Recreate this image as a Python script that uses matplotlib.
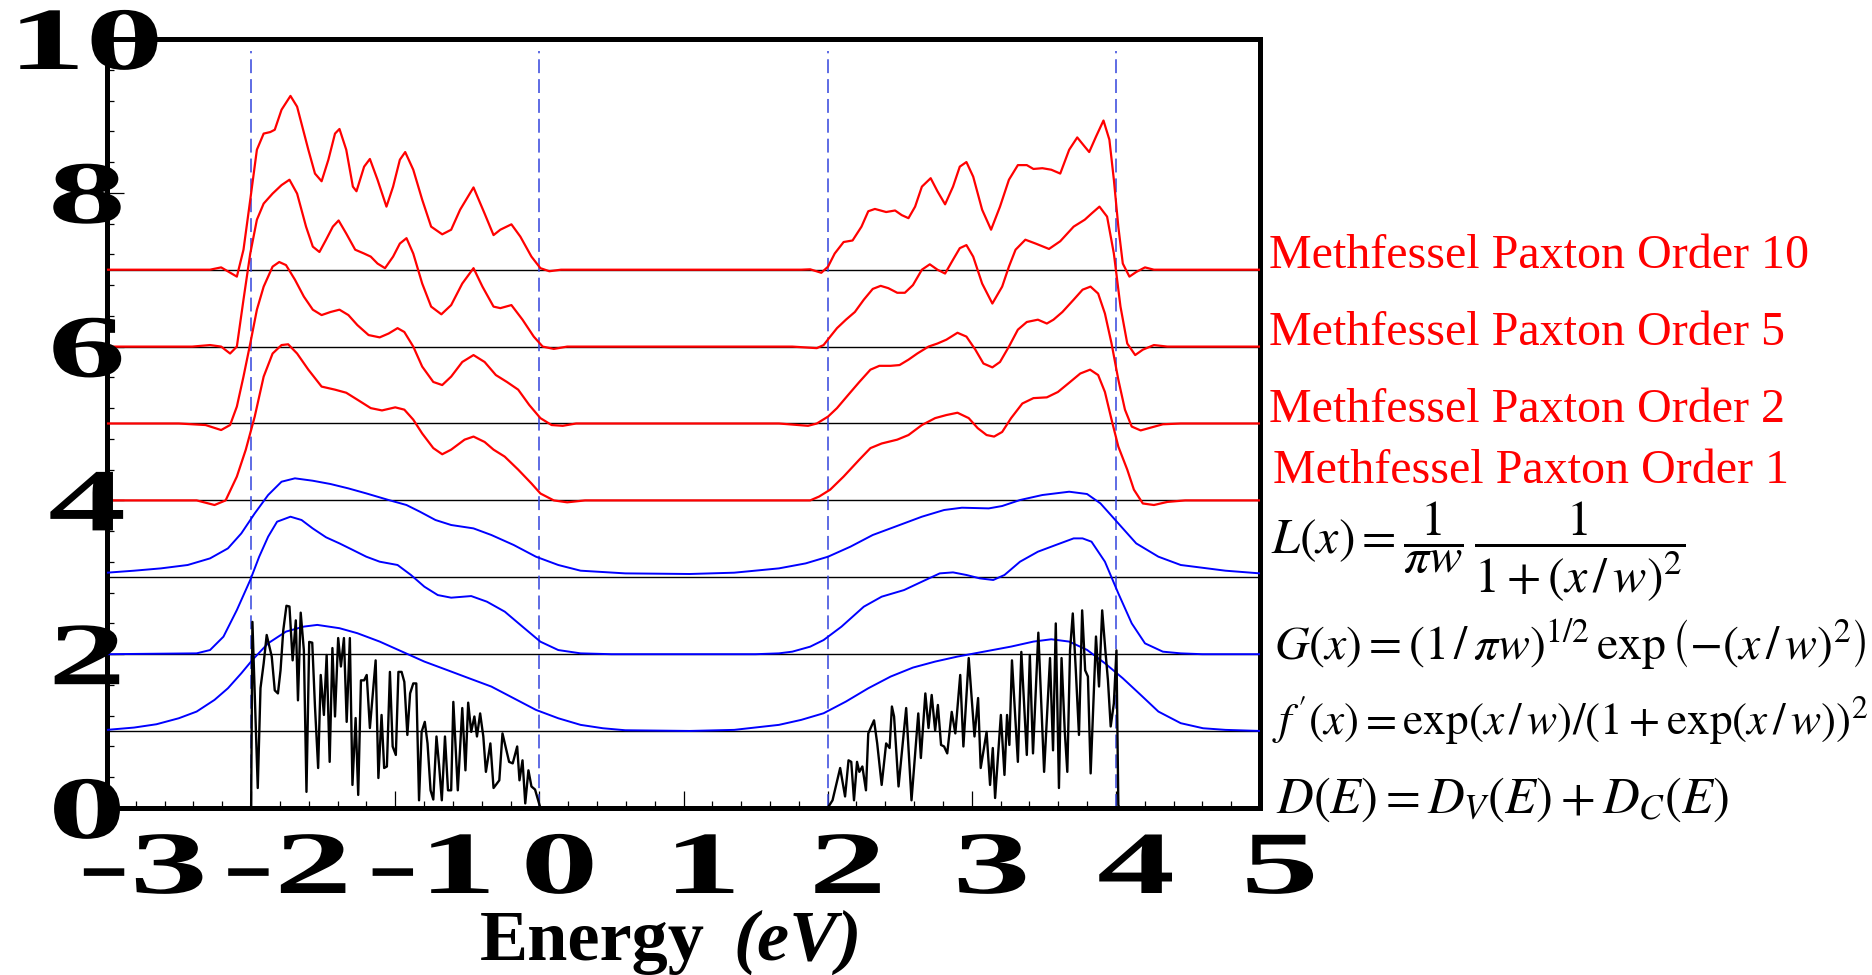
import matplotlib
matplotlib.use('Agg')
import matplotlib.pyplot as plt
from matplotlib.patheffects import AbstractPathEffect
from matplotlib.transforms import Affine2D, ScaledTranslation, blended_transform_factory
from matplotlib.ticker import MultipleLocator

plt.rcParams['mathtext.fontset'] = 'stix'
plt.rcParams['lines.scale_dashes'] = False

# ---------------- data ----------------
xtick_vals = [-3, -2, -1, 0, 1, 2, 3, 4, 5]
xtick_labels = ['-3', '-2', '-1', '0', '1', '2', '3', '4', '5']
ytick_vals = [0, 2, 4, 6, 8, 10]
ytick_labels = ['0', '2', '4', '6', '8', '10']

baselines = [1, 2, 3, 4, 5, 6, 7]
band_edges = [-2, 0, 2, 4]

mp_labels = ['Methfessel Paxton Order 10', 'Methfessel Paxton Order 5',
             'Methfessel Paxton Order 2', 'Methfessel Paxton Order 1']
mp_label_y = [7.02, 6.02, 5.02, 4.23]

formulas = [r'$L(x)=\dfrac{1}{\pi w}\,\dfrac{1}{1+(x\,/\,w)^{2}}$',
            r'$G(x)=(1\,/\,\pi w)^{1/2}\,\exp\left(-(x\,/\,w)^{2}\right)$',
            r"$f\,'(x)=\exp(x\,/\,w)/(1+\exp(x\,/\,w))^{2}$",
            r'$D(E)=D_{V}(E)+D_{C}(E)$']
formula_y = [3.30, 1.92, 0.95, -0.065]

mp10 = [(-3.0, 7.0), (-2.40, 7.0), (-2.285, 7.0), (-2.208, 7.03), (-2.099, 6.91), (-2.053, 7.26),
        (-2.006, 7.91), (-1.960, 8.56), (-1.913, 8.77), (-1.867, 8.79), (-1.836, 8.82), (-1.789, 9.08),
        (-1.727, 9.26), (-1.681, 9.12), (-1.603, 8.56), (-1.557, 8.25), (-1.511, 8.15), (-1.464, 8.43),
        (-1.418, 8.77), (-1.387, 8.83), (-1.340, 8.56), (-1.294, 8.08), (-1.269, 8.02), (-1.216, 8.34),
        (-1.176, 8.44), (-1.123, 8.17), (-1.061, 7.82), (-1.015, 8.08), (-0.968, 8.43), (-0.931, 8.53),
        (-0.875, 8.30), (-0.813, 7.91), (-0.751, 7.56), (-0.674, 7.46), (-0.612, 7.52), (-0.550, 7.78),
        (-0.457, 8.07), (-0.380, 7.73), (-0.318, 7.45), (-0.271, 7.52), (-0.194, 7.59), (-0.132, 7.43),
        (-0.055, 7.17), (0.007, 7.02), (0.069, 6.98), (0.15, 7.0), (1.817, 7.0), (1.879, 7.005),
        (1.956, 6.96), (2.003, 7.04), (2.049, 7.21), (2.111, 7.36), (2.173, 7.38), (2.235, 7.56),
        (2.282, 7.76), (2.328, 7.79), (2.406, 7.75), (2.468, 7.77), (2.514, 7.71), (2.561, 7.67),
        (2.607, 7.82), (2.654, 8.08), (2.715, 8.19), (2.762, 8.02), (2.815, 7.85), (2.870, 8.08),
        (2.917, 8.34), (2.963, 8.40), (3.010, 8.21), (3.072, 7.78), (3.134, 7.52), (3.196, 7.82),
        (3.258, 8.17), (3.320, 8.36), (3.382, 8.36), (3.428, 8.31), (3.490, 8.32), (3.552, 8.30),
        (3.614, 8.25), (3.676, 8.56), (3.732, 8.72), (3.784, 8.60), (3.815, 8.53), (3.862, 8.73),
        (3.914, 8.94), (3.955, 8.69), (3.986, 8.17), (4.017, 7.56), (4.048, 7.08), (4.094, 6.91),
        (4.141, 6.97), (4.202, 7.03), (4.264, 7.0), (5.0, 7.0)]

mp5 = [(-3.0, 6.0), (-2.409, 6.0), (-2.285, 6.02), (-2.208, 6.0), (-2.146, 5.91), (-2.099, 6.0),
       (-2.053, 6.61), (-2.006, 7.21), (-1.960, 7.65), (-1.913, 7.86), (-1.851, 7.99), (-1.789, 8.10),
       (-1.734, 8.17), (-1.681, 7.99), (-1.619, 7.56), (-1.572, 7.30), (-1.526, 7.23), (-1.480, 7.39),
       (-1.433, 7.56), (-1.393, 7.64), (-1.340, 7.47), (-1.278, 7.26), (-1.216, 7.21), (-1.170, 7.17),
       (-1.123, 7.08), (-1.071, 7.02), (-1.015, 7.17), (-0.968, 7.34), (-0.922, 7.41), (-0.875, 7.21),
       (-0.813, 6.82), (-0.751, 6.52), (-0.680, 6.42), (-0.612, 6.54), (-0.535, 6.82), (-0.457, 7.02),
       (-0.395, 6.78), (-0.318, 6.52), (-0.271, 6.50), (-0.194, 6.54), (-0.117, 6.35), (-0.039, 6.13),
       (0.023, 6.0), (0.100, 5.97), (0.193, 6.0), (1.755, 6.0), (1.925, 5.98), (1.972, 6.02),
       (2.018, 6.13), (2.065, 6.24), (2.127, 6.35), (2.189, 6.45), (2.251, 6.61), (2.313, 6.75),
       (2.368, 6.79), (2.421, 6.76), (2.483, 6.70), (2.536, 6.70), (2.592, 6.80), (2.654, 7.00),
       (2.709, 7.07), (2.762, 7.00), (2.815, 6.95), (2.870, 7.13), (2.917, 7.28), (2.963, 7.32),
       (3.010, 7.17), (3.072, 6.82), (3.143, 6.56), (3.211, 6.78), (3.258, 7.04), (3.304, 7.26),
       (3.372, 7.39), (3.443, 7.34), (3.536, 7.27), (3.614, 7.37), (3.707, 7.56), (3.784, 7.65),
       (3.831, 7.73), (3.886, 7.82), (3.939, 7.69), (3.986, 7.21), (4.032, 6.52), (4.079, 6.04),
       (4.134, 5.89), (4.187, 5.96), (4.264, 6.02), (4.357, 6.0), (5.0, 6.0)]

mp2 = [(-3.0, 5.0), (-2.502, 5.0), (-2.316, 4.98), (-2.208, 4.915), (-2.146, 4.98), (-2.099, 5.22),
       (-2.053, 5.61), (-2.006, 6.04), (-1.960, 6.48), (-1.913, 6.78), (-1.851, 7.04), (-1.805, 7.10),
       (-1.758, 7.06), (-1.696, 6.87), (-1.634, 6.65), (-1.572, 6.48), (-1.511, 6.41), (-1.449, 6.45),
       (-1.387, 6.48), (-1.325, 6.41), (-1.263, 6.28), (-1.185, 6.15), (-1.108, 6.12), (-1.046, 6.17),
       (-0.984, 6.24), (-0.937, 6.19), (-0.875, 6.00), (-0.813, 5.74), (-0.736, 5.54), (-0.674, 5.50),
       (-0.612, 5.61), (-0.535, 5.80), (-0.457, 5.89), (-0.380, 5.80), (-0.302, 5.63), (-0.225, 5.54),
       (-0.147, 5.44), (-0.070, 5.24), (0.007, 5.07), (0.085, 4.98), (0.162, 4.97), (0.255, 5.0),
       (1.662, 5.0), (1.864, 4.97), (1.925, 5.0), (2.003, 5.09), (2.065, 5.20), (2.142, 5.37),
       (2.220, 5.54), (2.297, 5.70), (2.359, 5.75), (2.437, 5.75), (2.499, 5.76), (2.561, 5.83),
       (2.622, 5.91), (2.700, 6.00), (2.762, 6.04), (2.824, 6.09), (2.901, 6.18), (2.963, 6.13),
       (3.025, 5.96), (3.081, 5.78), (3.143, 5.73), (3.196, 5.80), (3.258, 6.00), (3.320, 6.22),
       (3.382, 6.32), (3.459, 6.35), (3.521, 6.30), (3.567, 6.35), (3.629, 6.45), (3.707, 6.61),
       (3.769, 6.74), (3.824, 6.78), (3.877, 6.69), (3.924, 6.43), (3.970, 6.04), (4.017, 5.57),
       (4.063, 5.18), (4.110, 4.96), (4.172, 4.91), (4.249, 4.95), (4.326, 4.99), (4.450, 5.0),
       (5.0, 5.0)]

mp1 = [(-3.0, 4.0), (-2.378, 4.0), (-2.254, 3.94), (-2.177, 4.0), (-2.099, 4.31), (-2.037, 4.66),
       (-1.975, 5.09), (-1.913, 5.61), (-1.851, 5.91), (-1.789, 6.02), (-1.743, 6.03), (-1.681, 5.91),
       (-1.603, 5.70), (-1.511, 5.48), (-1.418, 5.44), (-1.340, 5.40), (-1.263, 5.31), (-1.170, 5.20),
       (-1.092, 5.17), (-1.000, 5.21), (-0.937, 5.18), (-0.875, 5.05), (-0.813, 4.87), (-0.736, 4.68),
       (-0.674, 4.60), (-0.612, 4.66), (-0.519, 4.79), (-0.457, 4.83), (-0.380, 4.76), (-0.318, 4.66),
       (-0.241, 4.57), (-0.147, 4.40), (-0.055, 4.22), (0.007, 4.09), (0.100, 4.0), (0.193, 3.975),
       (0.317, 4.0), (1.662, 4.0), (1.879, 4.0), (1.941, 4.05), (2.018, 4.14), (2.111, 4.31),
       (2.220, 4.53), (2.297, 4.68), (2.375, 4.74), (2.483, 4.79), (2.561, 4.85), (2.654, 4.98),
       (2.746, 5.07), (2.824, 5.11), (2.901, 5.14), (2.979, 5.07), (3.041, 4.94), (3.103, 4.85),
       (3.155, 4.83), (3.211, 4.89), (3.273, 5.07), (3.351, 5.26), (3.428, 5.33), (3.521, 5.34),
       (3.598, 5.41), (3.676, 5.53), (3.753, 5.65), (3.821, 5.70), (3.877, 5.63), (3.924, 5.41),
       (3.970, 5.05), (4.017, 4.70), (4.079, 4.40), (4.125, 4.14), (4.187, 3.96), (4.264, 3.94),
       (4.357, 3.98), (4.481, 4.0), (5.0, 4.0)]

lorentz = [(-3.0, 3.06), (-2.812, 3.086), (-2.626, 3.116), (-2.440, 3.16), (-2.285, 3.246),
           (-2.161, 3.376), (-2.068, 3.571), (-1.975, 3.831), (-1.882, 4.07), (-1.789, 4.243),
           (-1.696, 4.287), (-1.573, 4.256), (-1.449, 4.213), (-1.325, 4.156), (-1.201, 4.091),
           (-1.046, 4.005), (-0.922, 3.94), (-0.829, 3.853), (-0.721, 3.745), (-0.612, 3.68),
           (-0.457, 3.636), (-0.333, 3.55), (-0.178, 3.42), (-0.024, 3.268), (0.131, 3.16),
           (0.286, 3.086), (0.596, 3.051), (1.043, 3.043), (1.352, 3.06), (1.662, 3.116),
           (1.848, 3.181), (2.003, 3.268), (2.158, 3.398), (2.313, 3.55), (2.468, 3.658),
           (2.654, 3.788), (2.808, 3.875), (2.932, 3.905), (3.118, 3.896), (3.211, 3.927),
           (3.335, 4.005), (3.490, 4.07), (3.676, 4.113), (3.800, 4.083), (3.893, 3.961),
           (4.017, 3.701), (4.141, 3.441), (4.295, 3.268), (4.450, 3.16), (4.760, 3.086), (5.0, 3.051)]

gauss = [(-3.0, 2.0), (-2.378, 2.011), (-2.285, 2.054), (-2.192, 2.228), (-2.099, 2.574),
         (-2.006, 2.965), (-1.944, 3.268), (-1.882, 3.528), (-1.820, 3.723), (-1.727, 3.788),
         (-1.650, 3.745), (-1.573, 3.636), (-1.480, 3.52), (-1.387, 3.441), (-1.294, 3.355),
         (-1.201, 3.268), (-1.108, 3.203), (-0.984, 3.16), (-0.891, 3.03), (-0.798, 2.878),
         (-0.705, 2.769), (-0.612, 2.735), (-0.473, 2.756), (-0.364, 2.683), (-0.240, 2.553),
         (-0.117, 2.358), (0.007, 2.163), (0.131, 2.054), (0.286, 2.011), (0.5, 2.0), (1.5, 2.0),
         (1.662, 2.011), (1.755, 2.033), (1.879, 2.098), (1.972, 2.184), (2.096, 2.358),
         (2.251, 2.618), (2.375, 2.748), (2.530, 2.834), (2.654, 2.943), (2.778, 3.051),
         (2.870, 3.064), (2.963, 3.03), (3.056, 2.986), (3.149, 2.965), (3.227, 3.03),
         (3.335, 3.203), (3.459, 3.333), (3.583, 3.42), (3.707, 3.506), (3.769, 3.506),
         (3.831, 3.463), (3.924, 3.203), (4.017, 2.791), (4.110, 2.401), (4.202, 2.141),
         (4.326, 2.033), (4.450, 2.011), (4.6, 2.0), (5.0, 2.0)]

fermi = [(-3.0, 1.016), (-2.812, 1.046), (-2.657, 1.089), (-2.502, 1.167), (-2.378, 1.254),
         (-2.254, 1.406), (-2.161, 1.557), (-2.068, 1.752), (-1.991, 1.926), (-1.882, 2.142),
         (-1.758, 2.294), (-1.634, 2.359), (-1.541, 2.381), (-1.387, 2.338), (-1.263, 2.273),
         (-1.108, 2.164), (-0.953, 2.034), (-0.798, 1.904), (-0.643, 1.796), (-0.488, 1.687),
         (-0.333, 1.579), (-0.178, 1.427), (-0.024, 1.276), (0.131, 1.167), (0.286, 1.081),
         (0.441, 1.037), (0.596, 1.011), (1.043, 1.002), (1.352, 1.016), (1.662, 1.081),
         (1.817, 1.146), (1.972, 1.232), (2.127, 1.384), (2.282, 1.557), (2.437, 1.709),
         (2.592, 1.826), (2.746, 1.904), (2.901, 1.969), (3.087, 2.034), (3.273, 2.099),
         (3.428, 2.164), (3.552, 2.194), (3.676, 2.164), (3.800, 2.056), (3.924, 1.882),
         (4.048, 1.687), (4.172, 1.471), (4.295, 1.254), (4.450, 1.103), (4.605, 1.037),
         (4.760, 1.016), (5.0, 1.002)]

dos = [(-3.0, 0.0), (-2.0, 0.0), (-1.991, 2.42), (-1.954, 0.26), (-1.935, 1.56), (-1.913, 1.88),
       (-1.892, 2.25), (-1.857, 1.97), (-1.836, 1.53), (-1.814, 1.49), (-1.796, 1.79), (-1.777, 2.31),
       (-1.755, 2.63), (-1.734, 2.62), (-1.712, 1.92), (-1.690, 2.44), (-1.675, 1.40), (-1.656, 2.54),
       (-1.634, 2.05), (-1.616, 0.21), (-1.597, 2.16), (-1.576, 2.15), (-1.557, 1.32), (-1.535, 0.52),
       (-1.517, 1.73), (-1.495, 1.21), (-1.476, 1.99), (-1.455, 0.60), (-1.436, 2.08), (-1.418, 1.19),
       (-1.396, 2.21), (-1.377, 1.84), (-1.356, 2.21), (-1.337, 1.12), (-1.315, 2.21), (-1.297, 0.30),
       (-1.275, 1.17), (-1.257, 0.17), (-1.238, 1.66), (-1.216, 1.66), (-1.198, 1.73), (-1.176, 1.04),
       (-1.136, 1.92), (-1.117, 0.39), (-1.095, 1.21), (-1.077, 0.52), (-1.058, 0.54), (-1.037, 1.77),
       (-1.018, 0.80), (-0.996, 0.69), (-0.978, 1.77), (-0.956, 1.77), (-0.937, 1.64), (-0.916, 0.95),
       (-0.897, 1.49), (-0.875, 1.62), (-0.854, 1.62), (-0.835, 0.10), (-0.817, 0.99), (-0.795, 1.12),
       (-0.776, 0.84), (-0.755, 0.23), (-0.736, 0.11), (-0.714, 0.93), (-0.696, 0.56), (-0.677, 0.10),
       (-0.655, 0.93), (-0.634, 0.23), (-0.612, 0.23), (-0.597, 1.38), (-0.566, 0.23), (-0.535, 1.30),
       (-0.513, 0.49), (-0.494, 1.37), (-0.473, 0.99), (-0.451, 1.19), (-0.433, 0.93), (-0.411, 1.23),
       (-0.389, 0.93), (-0.371, 0.47), (-0.340, 0.84), (-0.318, 0.26), (-0.278, 0.36), (-0.256, 0.97),
       (-0.210, 0.60), (-0.185, 0.58), (-0.154, 0.80), (-0.138, 0.36), (-0.117, 0.62), (-0.098, 0.06),
       (-0.076, 0.49), (-0.055, 0.28), (-0.030, 0.24), (0.007, 0.0), (2.0, 0.0), (2.034, 0.10),
       (2.087, 0.52), (2.121, 0.15), (2.145, 0.62), (2.164, 0.60), (2.183, 0.10), (2.204, 0.60),
       (2.220, 0.47), (2.241, 0.54), (2.266, 0.23), (2.282, 0.97), (2.322, 1.14), (2.344, 0.84),
       (2.375, 0.30), (2.406, 0.84), (2.430, 0.78), (2.446, 1.32), (2.461, 1.19), (2.492, 0.28),
       (2.545, 1.30), (2.582, 0.10), (2.629, 1.23), (2.647, 0.65), (2.678, 1.49), (2.700, 1.04),
       (2.722, 1.47), (2.746, 1.01), (2.765, 1.34), (2.787, 0.82), (2.808, 0.80), (2.830, 0.71),
       (2.861, 1.25), (2.886, 0.97), (2.920, 1.73), (2.942, 0.80), (2.979, 1.95), (3.019, 0.93),
       (3.044, 1.43), (3.062, 0.52), (3.103, 0.99), (3.127, 0.30), (3.146, 0.78), (3.162, 0.13),
       (3.202, 1.21), (3.227, 0.43), (3.245, 1.21), (3.261, 0.82), (3.279, 1.92), (3.320, 0.60),
       (3.344, 2.03), (3.382, 0.69), (3.403, 1.99), (3.425, 0.71), (3.462, 2.28), (3.502, 0.47),
       (3.543, 1.95), (3.564, 0.75), (3.583, 2.40), (3.605, 0.26), (3.623, 1.95), (3.645, 1.01),
       (3.663, 0.47), (3.682, 2.05), (3.701, 2.53), (3.722, 1.79), (3.744, 0.95), (3.766, 2.57),
       (3.787, 1.79), (3.806, 1.71), (3.825, 0.45), (3.846, 1.45), (3.862, 2.23), (3.883, 1.58),
       (3.905, 2.57), (3.927, 2.05), (3.945, 1.66), (3.964, 1.06), (3.986, 1.36), (4.004, 2.05),
       (4.017, 0.04), (4.025, 0.0), (5.0, 0.0)]


# ---------------- helpers ----------------
class Stretch(AbstractPathEffect):
    """Draw text glyph outlines stretched horizontally about their centre."""
    def __init__(self, sx):
        super().__init__()
        self.sx = sx

    def draw_path(self, renderer, gc, tpath, affine, rgbFace=None):
        ext = tpath.get_extents()
        cx = 0.5 * (ext.x0 + ext.x1)
        pre = Affine2D().translate(-cx, 0).scale(self.sx, 1.0).translate(cx, 0)
        renderer.draw_path(gc, tpath, pre + affine, rgbFace)


def xy(pairs):
    return [p[0] for p in pairs], [p[1] for p in pairs]


W, H = 1872, 975
fig = plt.figure(figsize=(W / 100, H / 100), dpi=100)
L, R, T, B = 107, 1260, 39, 808
ax = fig.add_axes([L / W, 1 - B / H, (R - L) / W, (B - T) / H])
ax.set_xlim(-3, 5)
ax.set_ylim(0, 10)

for b in baselines:
    ax.axhline(b, color='black', lw=1.0, zorder=1)
for e in band_edges:
    ax.plot([e, e], [0, 9.85], color='#3344dd', lw=1.1, ls=(0, (10, 4.3)), zorder=2)

for curve in (mp10, mp5, mp2, mp1):
    ax.plot(*xy(curve), color='#ff0000', lw=1.6, zorder=3,
            solid_joinstyle='round', solid_capstyle='round')
for curve in (lorentz, gauss, fermi):
    ax.plot(*xy(curve), color='#0000ff', lw=1.4, zorder=3, solid_joinstyle='round')
ax.plot(*xy(dos), color='black', lw=1.7, zorder=3)

for s in ax.spines.values():
    s.set_linewidth(3.6)
ax.xaxis.set_major_locator(MultipleLocator(1))
ax.xaxis.set_minor_locator(MultipleLocator(0.2))
ax.yaxis.set_major_locator(MultipleLocator(2))
ax.yaxis.set_minor_locator(MultipleLocator(0.4))
ax.tick_params(which='both', direction='in', top=False, right=False,
               labelbottom=False, labelleft=False, width=0.9)
ax.tick_params(which='major', length=12)
ax.tick_params(which='minor', length=5)

tick_font = dict(family='Liberation Serif', weight='bold', size=64)
stretch = [Stretch(1.75)]
for v, lab in zip(xtick_vals, xtick_labels):
    dx = 36 if v < 0 else 20
    tr = blended_transform_factory(ax.transData, fig.transFigure) + \
        ScaledTranslation(dx / 100, 0, fig.dpi_scale_trans)
    ax.text(v, 1 - 893 / H, lab, transform=tr, ha='center', va='baseline',
            path_effects=stretch, clip_on=False, **tick_font)
for v, lab in zip(ytick_vals, ytick_labels):
    tr = ax.transData + ScaledTranslation(-20 / 100, -30 / 100, fig.dpi_scale_trans)
    ax.text(-3, v, lab, transform=tr, ha='center', va='baseline',
            path_effects=stretch, clip_on=False, **tick_font)

for lab, yv in zip(mp_labels, mp_label_y):
    xv = 5.09 if lab.endswith(' 1') else 5.06
    ax.text(xv, yv, lab, color='#ff0000', family='Liberation Serif', fontsize=34.6,
            ha='left', va='baseline', clip_on=False)

formula_x = [5.075, 5.095, 5.085, 5.11]
formula_size = [36, 34.5, 32.6, 36.5]
for f, xv, yv, fs in zip(formulas, formula_x, formula_y, formula_size):
    ax.text(xv, yv, f, color='black', fontsize=fs, ha='left', va='baseline', clip_on=False)

fig.text(480 / W, 1 - 960 / H, 'Energy', family='Liberation Serif', weight='bold',
         fontsize=52, ha='left', va='baseline')
fig.text(733 / W, 1 - 960 / H, '(eV)', family='Liberation Serif', weight='bold',
         style='italic', fontsize=52, ha='left', va='baseline')

fig.savefig('out.png', dpi=100)
